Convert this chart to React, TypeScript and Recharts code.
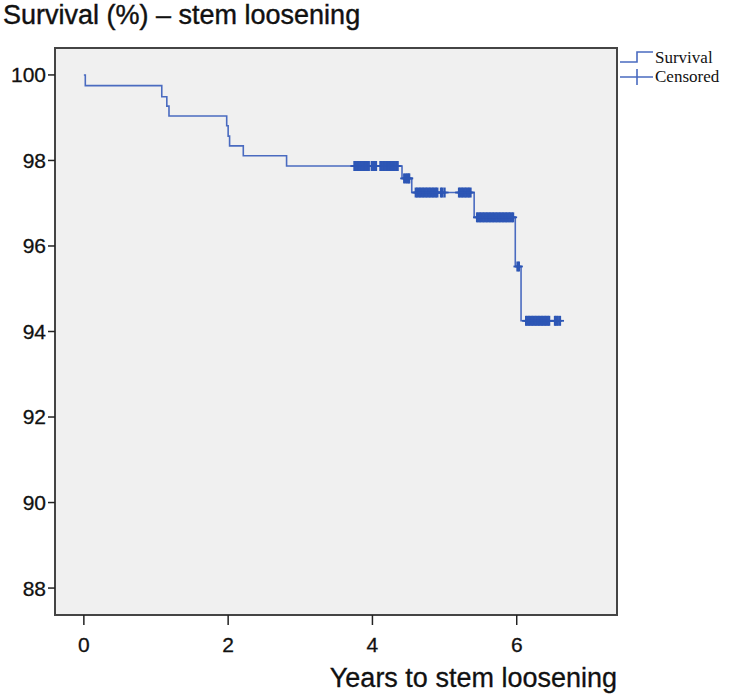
import { ComposedChart, Line, Scatter, XAxis, YAxis, CartesianGrid, ReferenceArea } from 'recharts'

// Kaplan-Meier steps: time (years) and survival (%) after each event
const eventTimes = [0, 0.02, 1.08, 1.15, 1.18, 1.98, 2.0, 2.02, 2.21, 2.81, 4.41, 4.545, 5.41, 5.98, 6.06, 6.6]
const survival = [100, 99.75, 99.49, 99.27, 99.04, 98.81, 98.57, 98.34, 98.11, 97.87, 97.58, 97.25, 96.67, 95.52, 94.25, 94.25]

// censored cases, grouped by the survival level they sit on
const censorLevels = [97.87, 97.58, 97.25, 96.67, 95.52, 94.25]
const censorTimes = [
  [3.75, 3.77, 3.79, 3.81, 3.83, 3.85, 3.87, 3.89, 3.91, 3.93, 3.95, 3.99, 4.01, 4.03, 4.05,
    4.11, 4.13, 4.15, 4.17, 4.19, 4.21, 4.23, 4.25, 4.27, 4.29, 4.31, 4.33, 4.35],
  [4.44, 4.46, 4.48, 4.5, 4.51],
  [4.6, 4.62, 4.64, 4.66, 4.68, 4.7, 4.72, 4.74, 4.76, 4.78, 4.8, 4.82, 4.84, 4.86, 4.88, 4.9,
    4.95, 4.97, 5.0, 5.2, 5.22, 5.24, 5.26, 5.28, 5.3, 5.32, 5.34, 5.36],
  [5.45, 5.47, 5.49, 5.51, 5.53, 5.55, 5.57, 5.59, 5.61, 5.63, 5.65, 5.67, 5.69, 5.71, 5.73,
    5.75, 5.77, 5.79, 5.81, 5.83, 5.85, 5.87, 5.89, 5.91, 5.93, 5.95],
  [6.01, 6.03],
  [6.13, 6.15, 6.17, 6.19, 6.21, 6.23, 6.25, 6.27, 6.29, 6.31, 6.33, 6.35, 6.37, 6.39, 6.41, 6.43, 6.45,
    6.53, 6.55, 6.57, 6.6],
]

const xTicks = [0, 2, 4, 6]
const yTicks = [88, 90, 92, 94, 96, 98, 100]

const X_DOMAIN: [number, number] = [-0.4, 7.39]
const Y_DOMAIN: [number, number] = [87.37, 100.63]

const LINE_COLOR = '#4a6bc0'
const MARK_COLOR = '#2d56b5'
const SANS = '"Liberation Sans", Arial, sans-serif'

const lineData = eventTimes.map((t, i) => ({ t, s: survival[i] }))
const censorData = censorLevels.flatMap((s, i) => censorTimes[i].map((t) => ({ t, s })))

const CensorMark = (props: any) => {
  const { cx, cy } = props
  if (cx == null || cy == null) return null
  return (
    <g stroke={MARK_COLOR} fill="none">
      <path d={`M${cx},${cy - 5}V${cy + 5}`} strokeWidth={2.2} />
      <path d={`M${cx - 4},${cy}H${cx + 4}`} strokeWidth={1.8} />
    </g>
  )
}

const LegendBox = () => (
  <div
    style={{
      position: 'absolute',
      left: 618,
      top: 48,
      fontFamily: '"Liberation Serif", "Times New Roman", serif',
      fontSize: 17,
      color: '#111',
      lineHeight: '19px',
    }}
  >
    <div style={{ display: 'flex', alignItems: 'center' }}>
      <svg width={37} height={19}>
        <path d="M2,14H19V4H35" stroke={LINE_COLOR} strokeWidth={1.6} fill="none" />
      </svg>
      <span>Survival</span>
    </div>
    <div style={{ display: 'flex', alignItems: 'center' }}>
      <svg width={37} height={19}>
        <path d="M2,10H35M19,2V18" stroke={LINE_COLOR} strokeWidth={1.6} fill="none" />
      </svg>
      <span>Censored</span>
    </div>
  </div>
)

const XLabel = (props: any) => {
  const { viewBox } = props
  return (
    <text
      x={viewBox.x + viewBox.width}
      y={viewBox.y + 72}
      textAnchor="end"
      fontFamily={SANS}
      fontSize={27}
      fill="#111"
      stroke="#111"
      strokeWidth={0.3}
    >
      Years to stem loosening
    </text>
  )
}

const tickStyle = { fill: '#111', fontSize: 21, fontFamily: SANS, stroke: '#111', strokeWidth: 0.3 }

export default function App() {
  return (
    <div style={{ position: 'absolute', left: 0, top: 0, width: 734, height: 695, background: '#fff' }}>
      <div
        style={{
          position: 'absolute',
          left: 3,
          top: 0,
          fontFamily: SANS,
          fontSize: 27,
          color: '#111',
          WebkitTextStroke: '0.4px #111',
          whiteSpace: 'nowrap',
        }}
      >
        Survival (%) – stem loosening
      </div>
      <ComposedChart width={734} height={695} margin={{ top: 48, right: 117, bottom: 0, left: 10 }}>
        <CartesianGrid fill="#f0f0f0" horizontal={false} vertical={false} />
        <XAxis
          dataKey="t"
          type="number"
          domain={X_DOMAIN}
          ticks={xTicks}
          allowDataOverflow
          axisLine={false}
          tickSize={10}
          tickMargin={12}
          tickLine={{ stroke: '#222', strokeWidth: 1.5 }}
          tick={tickStyle}
          height={80}
          label={<XLabel />}
        />
        <YAxis
          dataKey="s"
          type="number"
          domain={Y_DOMAIN}
          ticks={yTicks}
          allowDataOverflow
          axisLine={false}
          tickSize={7}
          tickLine={{ stroke: '#222', strokeWidth: 1.5 }}
          tick={tickStyle}
          width={45}
        />
        <Line
          data={lineData}
          dataKey="s"
          type="stepAfter"
          stroke={LINE_COLOR}
          strokeWidth={1.6}
          dot={false}
          activeDot={false}
          isAnimationActive={false}
        />
        <Scatter data={censorData} dataKey="s" shape={<CensorMark />} isAnimationActive={false} />
        <ReferenceArea
          x1={X_DOMAIN[0]}
          x2={X_DOMAIN[1]}
          y1={Y_DOMAIN[0]}
          y2={Y_DOMAIN[1]}
          fill="none"
          stroke="#444"
          strokeWidth={2}
        />
      </ComposedChart>
      <LegendBox />
    </div>
  )
}
